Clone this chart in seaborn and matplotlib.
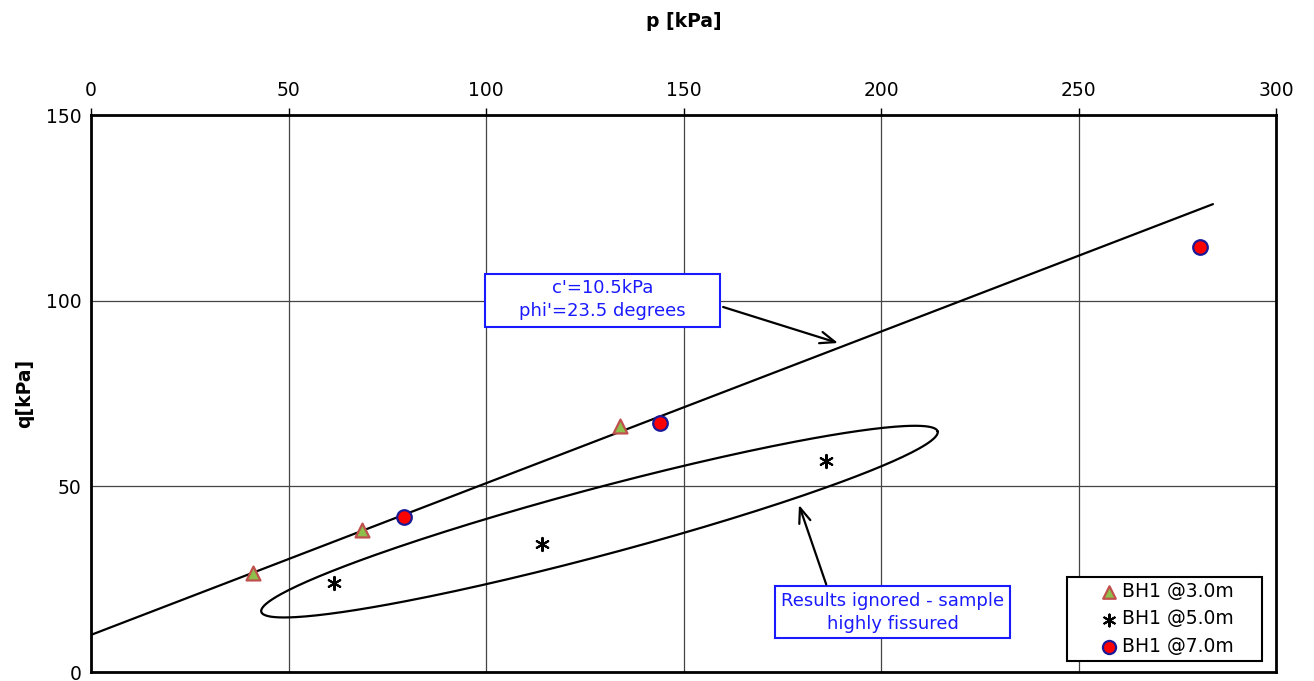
import numpy as np
import pandas as pd
import matplotlib
matplotlib.use("Agg")
import matplotlib.pyplot as plt
from matplotlib.patches import Rectangle
import seaborn as sns

# Data
p_3m = [41.0, 68.6, 133.9]
q_3m = [26.7, 38.2, 66.3]
p_5m = [61.5, 114.2, 186.1]
q_5m = [24.0, 34.5, 56.8]
p_7m = [79.2, 144.1, 280.8]
q_7m = [41.7, 67.1, 114.5]
series_labels = ["BH1 @3.0m", "BH1 @5.0m", "BH1 @7.0m"]
fit_p = [0, 284]
fit_q = [10.0, 126.0]
x_ticks = [0, 50, 100, 150, 200, 250, 300]
y_ticks = [0, 50, 100, 150]

sns.set_theme(style="white")
plt.rcParams['font.family'] = ['DejaVu Sans']
plt.rcParams['text.color'] = 'black'
plt.rcParams['axes.labelcolor'] = 'black'

fig = plt.figure(figsize=(13.14, 6.81), dpi=100)
ax = fig.add_axes([0.0693, 0.0132, 0.9019, 0.8179])

ax.grid(True, color="#444444", linewidth=0.9)
ax.set_axisbelow(True)

sns.lineplot(x=fit_p, y=fit_q, ax=ax, color="black", linewidth=1.6, zorder=2)

# Ellipse around ignored results
cx, cy = 128.7, 40.5
ax_a = (85.6, 24.3)
ax_b = (-2.2, 8.7)
t = np.linspace(0, 2 * np.pi, 300)
ex = cx + ax_a[0] * np.cos(t) + ax_b[0] * np.sin(t)
ey = cy + ax_a[1] * np.cos(t) + ax_b[1] * np.sin(t)
ax.plot(ex, ey, color="black", linewidth=1.6, zorder=2)

sns.scatterplot(x=p_3m, y=q_3m, ax=ax, marker="^", s=100, color="#8dbf4a",
                edgecolor="#c0504d", linewidth=1.6, label=series_labels[0], zorder=4)
sns.scatterplot(x=p_5m, y=q_5m, ax=ax, marker=(6, 2, 0), s=90, color="black",
                linewidth=1.5, label=series_labels[1], zorder=4)
sns.scatterplot(x=p_7m, y=q_7m, ax=ax, marker="o", s=110, color="#ff0000",
                edgecolor="#1a1a99", linewidth=1.6, label=series_labels[2], zorder=4)

ax.set_xlim(0, 300)
ax.set_ylim(0, 150)
ax.set_xticks(x_ticks)
ax.set_yticks(y_ticks)
ax.xaxis.tick_top()
ax.xaxis.set_label_position("top")
ax.tick_params(axis="both", labelsize=13.5, length=5, width=1, direction="out",
               colors="black", labelcolor="black")
ax.tick_params(axis="x", pad=6)
ax.tick_params(axis="y", pad=2)
ax.set_xlabel("p [kPa]", fontsize=13.5, fontweight="bold", labelpad=39, color="black")
ax.set_ylabel("q[kPa]", fontsize=13.5, fontweight="bold", labelpad=8, color="black")
for s in ax.spines.values():
    s.set_visible(True)
    s.set_color("black")
    s.set_linewidth(2)

blue = "#1a1aff"
# Annotation 1
ax.add_patch(Rectangle((99.7, 92.9), 59.5, 14.3, fc="white", ec=blue, lw=1.5, zorder=5))
ax.text(129.4, 100.3, "c'=10.5kPa\nphi'=23.5 degrees", ha="center", va="center",
        fontsize=13, color=blue, zorder=6, linespacing=1.35)
ax.annotate("", xy=(189.1, 88.6), xytext=(160.0, 98.3),
            arrowprops=dict(arrowstyle="->,head_length=0.9,head_width=0.35", color="black", lw=1.6,
                            shrinkA=0, shrinkB=0), zorder=5)
# Annotation 2
ax.add_patch(Rectangle((173.2, 9.2), 59.5, 14.0, fc="white", ec=blue, lw=1.5, zorder=5))
ax.text(202.9, 16.1, "Results ignored - sample\nhighly fissured", ha="center", va="center",
        fontsize=13, color=blue, zorder=6, linespacing=1.35)
ax.annotate("", xy=(179.2, 45.0), xytext=(186.1, 23.6),
            arrowprops=dict(arrowstyle="->,head_length=0.9,head_width=0.35", color="black", lw=1.6,
                            shrinkA=0, shrinkB=0), zorder=5)

# Legend frame
ax.add_patch(Rectangle((0.8236, 0.0197), 0.1646, 0.1509, transform=ax.transAxes,
                       fc="white", ec="black", lw=1.5, zorder=6))
leg = ax.legend(loc="center", bbox_to_anchor=(0.9059, 0.0952), fontsize=13.5,
                frameon=False, handletextpad=0.0, borderpad=0.0,
                handlelength=1.4, labelspacing=0.45, markerscale=0.9)
leg.set_zorder(7)

fig.savefig("out.png", dpi=100)
